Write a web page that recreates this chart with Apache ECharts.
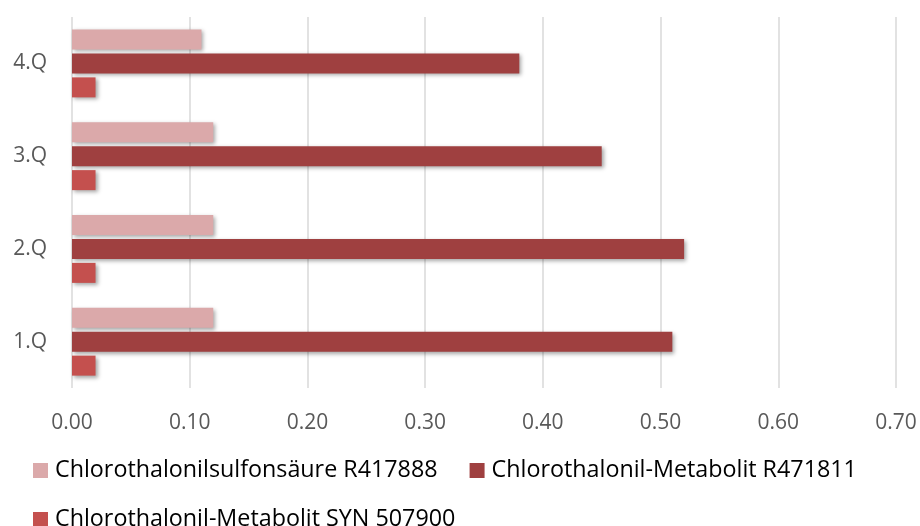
<!DOCTYPE html>
<html>
<head>
<meta charset="utf-8">
<script src="https://cdn.jsdelivr.net/npm/echarts@6/dist/echarts.min.js"></script>
<style>
html, body { margin: 0; padding: 0; background: #fff; }
#chart { width: 920px; height: 526px; }
</style>
</head>
<body>
<div id="chart"></div>
<script>
const quarters = ['1.Q', '2.Q', '3.Q', '4.Q'];
const sulfonsaeureR417888 = [0.12, 0.12, 0.12, 0.11];
const metabolitR471811 = [0.51, 0.52, 0.45, 0.38];
const metabolitSYN507900 = [0.02, 0.02, 0.02, 0.02];
const seriesNames = [
  'Chlorothalonilsulfonsäure R417888',
  'Chlorothalonil-Metabolit R471811',
  'Chlorothalonil-Metabolit SYN 507900'
];
const xTicks = { min: 0, max: 0.7, interval: 0.1 };

const font = '"Open Sans", Lato, sans-serif';
const shadow = {
  shadowColor: 'rgba(0,0,0,0.35)',
  shadowBlur: 4,
  shadowOffsetX: 2,
  shadowOffsetY: 2
};

function bar(name, data, color) {
  return {
    name: name,
    type: 'bar',
    data: data,
    barWidth: 20,
    barGap: '20%',
    itemStyle: Object.assign({ color: color }, shadow)
  };
}

const legendText = { color: '#000', fontSize: 23.3, fontFamily: font, padding: [0, 0, 0, 2] };

const chart = echarts.init(document.getElementById('chart'));
chart.setOption({
  animation: false,
  textStyle: { fontFamily: font },
  grid: { left: 72, right: 24, top: 17, bottom: 138, containLabel: false },
  xAxis: {
    type: 'value',
    min: xTicks.min,
    max: xTicks.max,
    interval: xTicks.interval,
    axisLine: { show: false },
    axisTick: { show: false },
    splitLine: { lineStyle: { color: '#d9d9d9', width: 1.5 } },
    axisLabel: {
      color: '#595959',
      fontSize: 21,
      fontFamily: font,
      margin: 25,
      formatter: v => v.toFixed(2)
    }
  },
  yAxis: {
    type: 'category',
    data: quarters,
    axisLine: { show: false },
    axisTick: { show: false },
    axisLabel: { color: '#595959', fontSize: 21, fontFamily: font, margin: 25 }
  },
  legend: [
    {
      data: [seriesNames[0], seriesNames[1]],
      left: 33,
      top: 459,
      padding: 0,
      itemWidth: 15,
      itemHeight: 15,
      itemGap: 32,
      icon: 'rect',
      textStyle: legendText
    },
    {
      data: [seriesNames[2]],
      left: 33,
      top: 508,
      padding: 0,
      itemWidth: 15,
      itemHeight: 15,
      icon: 'rect',
      textStyle: legendText
    }
  ],
  series: [
    bar(seriesNames[0], sulfonsaeureR417888, '#dba9aa'),
    bar(seriesNames[1], metabolitR471811, '#9f4040'),
    bar(seriesNames[2], metabolitSYN507900, '#c4504e')
  ]
});
</script>
</body>
</html>
